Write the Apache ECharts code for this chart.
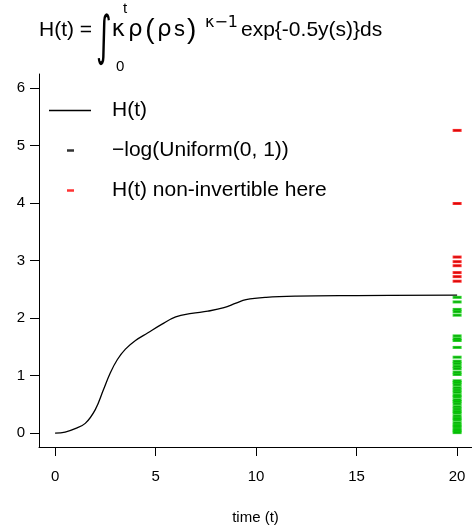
<!DOCTYPE html>
<html>
<head>
<meta charset="utf-8">
<script src="https://cdn.jsdelivr.net/npm/echarts@6/dist/echarts.min.js"></script>
<style>
  html, body { margin: 0; padding: 0; background: #ffffff; }
  #chart { width: 472px; height: 530px; }
</style>
</head>
<body>
<div id="chart"></div>
<script>
// Cumulative hazard H(t), sampled along the time axis
const timePoints   = [0, 0.5, 1, 1.5, 2, 2.4, 2.75, 3.1, 3.5, 4, 4.6, 5.3, 6, 6.8, 7.6, 8.4, 9, 9.5, 10.5, 12, 15, 20];
const hazardValues = [0, 0.02, 0.08, 0.17, 0.41, 0.75, 1.05, 1.28, 1.46, 1.61, 1.74, 1.89, 2.02, 2.08, 2.12, 2.18, 2.26, 2.32, 2.36, 2.38, 2.39, 2.40];

// Draws of -log(U), shown as dashes at the end of follow-up
const drawTime = 20;
const expDraws = [5.26, 3.99, 3.06, 2.98, 2.91, 2.79, 2.72, 2.64,
                  2.36, 2.28, 2.15, 2.11, 2.05, 1.69, 1.64, 1.61, 1.49, 1.32,
                  1.25, 1.21, 1.16, 1.12, 1.06, 1.02,
                  0.91, 0.88, 0.84, 0.79, 0.75, 0.71, 0.66, 0.63, 0.58, 0.55,
                  0.51, 0.46, 0.42, 0.38, 0.35, 0.30, 0.26, 0.23, 0.18, 0.14,
                  0.11, 0.07, 0.04, 0.01];

// Tick labels
const xTicks = [0, 5, 10, 15, 20];
const yTicks = [0, 1, 2, 3, 4, 5, 6];

const FONT = '"Liberation Sans", Arial, Helvetica, sans-serif';
const SYMFONT = '"DejaVu Sans", "Liberation Sans", sans-serif';
const GREEN = '#00CD00';
const RED = '#FF0000';

const hMax = hazardValues[hazardValues.length - 1];
const curve = timePoints.map((t, i) => [t, hazardValues[i]]);
const allDraws = expDraws.map(v => [drawTime, v]);
const invertible = expDraws.filter(v => v <= hMax).map(v => [drawTime, v]);
const nonInvertible = expDraws.filter(v => v > hMax).map(v => [drawTime, v]);

const dash = { symbol: 'rect', symbolSize: [9, 3] };
const LABEL_UNIFORM = '\u2212log(Uniform(0, 1))';
const LABEL_NONINV = 'H(t) non-invertible here';

const chart = echarts.init(document.getElementById('chart'), null, { renderer: 'canvas' });

const titleText = (text, x, y, size, family, extra) => Object.assign({
  type: 'text', x: x, y: y,
  style: { text: text, fill: '#000', font: size + 'px ' + (family || FONT), align: 'left', verticalAlign: 'middle' }
}, extra || {});

chart.setOption({
  animation: false,
  backgroundColor: '#ffffff',
  textStyle: { fontFamily: FONT },
  grid: { left: 39, right: 0, top: 74, bottom: 77, containLabel: false },
  xAxis: {
    type: 'value', min: -0.8, max: 20.74,
    name: 'time (t)', nameLocation: 'middle', nameGap: 63,
    nameTextStyle: { fontSize: 15, color: '#000', fontFamily: FONT },
    axisLine: { show: true, onZero: false, lineStyle: { color: '#000', width: 1 } },
    axisTick: { show: true, customValues: xTicks, length: 9, lineStyle: { color: '#000', width: 1 } },
    axisLabel: { customValues: xTicks, fontSize: 15, color: '#000', margin: 22, fontFamily: FONT },
    splitLine: { show: false }
  },
  yAxis: {
    type: 'value', min: -0.24, max: 6.24,
    axisLine: { show: true, onZero: false, lineStyle: { color: '#000', width: 1 } },
    axisTick: { show: true, customValues: yTicks, length: 9, lineStyle: { color: '#000', width: 1 } },
    axisLabel: { customValues: yTicks, fontSize: 15, color: '#000', margin: 14, fontFamily: FONT },
    splitLine: { show: false }
  },
  legend: [
    {
      left: 49, top: 100, padding: 0, itemWidth: 42, itemHeight: 1.3, icon: 'rect', selectedMode: false,
      data: ['H(t)'],
      textStyle: { fontSize: 21, color: '#000', fontFamily: FONT, padding: [0, 0, 0, 16] }
    },
    {
      left: 67, top: 140, padding: 0, itemWidth: 7, itemHeight: 2.5, icon: 'rect', selectedMode: false,
      data: [LABEL_UNIFORM],
      textStyle: { fontSize: 21, color: '#000', fontFamily: FONT, padding: [0, 0, 0, 33] }
    },
    {
      left: 67, top: 180, padding: 0, itemWidth: 7, itemHeight: 2.5, icon: 'rect', selectedMode: false,
      data: [LABEL_NONINV],
      textStyle: { fontSize: 21, color: '#000', fontFamily: FONT, padding: [0, 0, 0, 33] }
    }
  ],
  graphic: [
    titleText('H(t) =', 39, 30, 21),
    titleText('\u222B', 96, 40, 30, SYMFONT, { scaleY: 1.8, originX: 0, originY: 0 }),
    titleText('t', 123, 9, 15),
    titleText('0', 116, 67, 15),
    {
      type: 'text', x: 110, y: 30,
      style: {
        text: '{g|\u03BA}{g|\u03C1}{p|(}{g|\u03C1}{s|s}{p|)}',
        verticalAlign: 'middle', align: 'left',
        rich: {
          g: { fontSize: 23, fontFamily: SYMFONT, color: '#000', padding: [0, 1.5, 0, 1.5] },
          p: { fontSize: 28, fontFamily: FONT, color: '#000', padding: [0, 1, 0, 1] },
          s: { fontSize: 22, fontFamily: FONT, color: '#000', padding: [0, 1, 0, 1] }
        }
      }
    },
    titleText('\u03BA\u22121', 205, 23, 16, SYMFONT),
    titleText('exp{-0.5y(s)}ds', 241, 30, 21)
  ],
  series: [
    {
      name: 'H(t)', type: 'line', data: curve, smooth: 0.4,
      symbol: 'none', lineStyle: { color: '#000', width: 1.3 }, itemStyle: { color: '#000' }, z: 3
    },
    { name: LABEL_UNIFORM, type: 'scatter', data: allDraws, symbol: 'rect', symbolSize: [7, 1.5],
      itemStyle: { color: '#000' }, z: 2 },
    Object.assign({ name: 'invertible', type: 'scatter', data: invertible, itemStyle: { color: GREEN }, z: 4 }, dash),
    Object.assign({ name: LABEL_NONINV, type: 'scatter', data: nonInvertible, itemStyle: { color: RED }, z: 4 }, dash)
  ]
});
</script>
</body>
</html>
